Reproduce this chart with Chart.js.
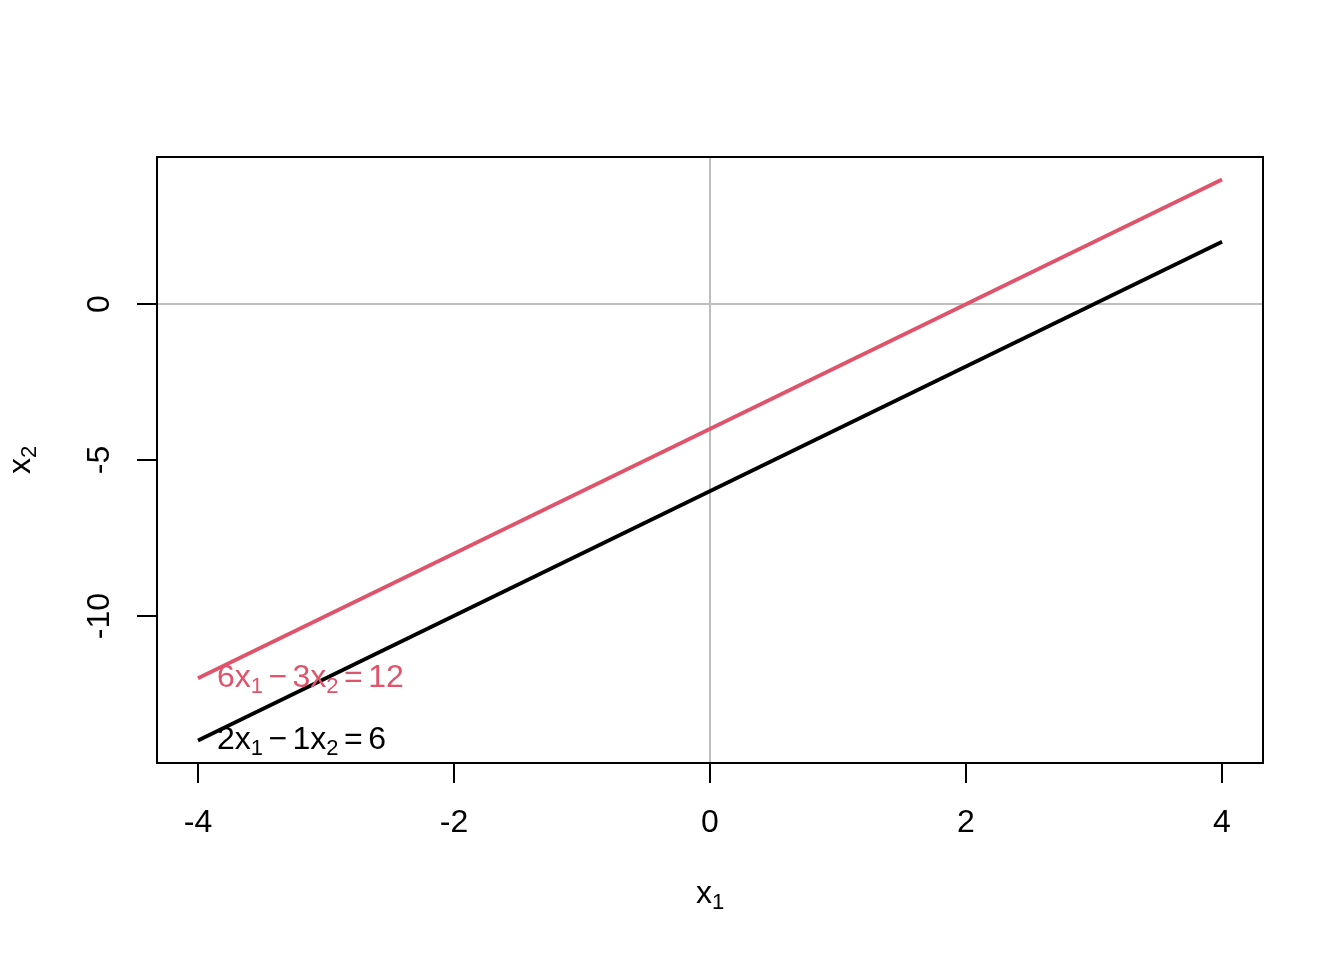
<!DOCTYPE HTML>
<html>
<head>
  <title>x1 / x2 lines</title>
  <meta charset="utf-8" />
  <script src="https://cdn.jsdelivr.net/npm/chart.js@4.4.0/dist/chart.umd.min.js"></script>
  <style type="text/css">
    body { margin: 0; padding: 0; background: #fff; }
  </style>
</head>
<body>
<canvas id="plot" width="1344" height="960"></canvas>

<script>
  // data
  var x1Values = [-4, 4];
  var blackX2 = [-14, 2];   // 2x1 - 1x2 = 6
  var redX2 = [-12, 4];     // 6x1 - 3x2 = 12
  var xTicks = [-4, -2, 0, 2, 4];
  var yTicks = [-10, -5, 0];
  var lineLabels = ["6x_1 − 3x_2 = 12", "2x_1 − 1x_2 = 6"];
  var labelAnchors = [[-4, -12], [-4, -14]];
  var labelColors = ["#DF536B", "#000000"];

  var FONT = "'Liberation Sans', Arial, sans-serif";

  function pts(xs, ys) {
    var out = [];
    for (var i = 0; i < xs.length; i++) out.push({x: xs[i], y: ys[i]});
    return out;
  }

  // draws text where "_d" makes d a subscript, spaces are narrow like plotmath
  function drawMath(ctx, str, x, y, size, align) {
    var parts = [];
    var re = /_(\w)/g, last = 0, m;
    while ((m = re.exec(str)) !== null) {
      if (m.index > last) parts.push({t: str.slice(last, m.index), sub: false});
      parts.push({t: m[1], sub: true});
      last = m.index + m[0].length;
    }
    if (last < str.length) parts.push({t: str.slice(last), sub: false});
    var subSize = Math.round(size * 0.7);
    var pieces = [];
    parts.forEach(function(p) {
      p.t.split(/( )/).forEach(function(s) {
        if (s !== "") pieces.push({t: s, sub: p.sub});
      });
    });
    var w = 0;
    pieces.forEach(function(p) {
      ctx.font = (p.sub ? subSize : size) + "px " + FONT;
      p.w = p.t === " " ? size * 0.17 : ctx.measureText(p.t).width;
      w += p.w;
    });
    var cx = align === "center" ? x - w / 2 : x;
    ctx.textBaseline = "alphabetic";
    ctx.textAlign = "left";
    pieces.forEach(function(p) {
      if (p.t !== " ") {
        ctx.font = (p.sub ? subSize : size) + "px " + FONT;
        ctx.fillText(p.t, cx, y + (p.sub ? size * 0.19 : 0));
      }
      cx += p.w;
    });
  }

  var axesPlugin = {
    id: 'baseAxes',
    beforeDatasetsDraw: function(chart) {
      var ctx = chart.ctx, a = chart.chartArea;
      var xs = chart.scales.x, ys = chart.scales.y;
      ctx.save();
      ctx.strokeStyle = "#BEBEBE";
      ctx.lineWidth = 2;
      var px = Math.round(xs.getPixelForValue(0));
      var py = Math.round(ys.getPixelForValue(0));
      ctx.beginPath();
      ctx.moveTo(px, a.top); ctx.lineTo(px, a.bottom);
      ctx.moveTo(a.left, py); ctx.lineTo(a.right, py);
      ctx.stroke();
      ctx.restore();
    },
    afterDatasetsDraw: function(chart) {
      var ctx = chart.ctx, a = chart.chartArea;
      var xs = chart.scales.x, ys = chart.scales.y;
      ctx.save();
      // equation labels
      for (var i = 0; i < lineLabels.length; i++) {
        ctx.fillStyle = labelColors[i];
        var lx = xs.getPixelForValue(labelAnchors[i][0]) + 19;
        var ly = ys.getPixelForValue(labelAnchors[i][1]) + 8.5;
        drawMath(ctx, lineLabels[i], lx, ly, 32, "left");
      }
      // box
      ctx.strokeStyle = "#000";
      ctx.lineWidth = 2;
      ctx.strokeRect(a.left, a.top, a.right - a.left, a.bottom - a.top);
      // x axis
      ctx.fillStyle = "#000";
      ctx.font = "32px " + FONT;
      ctx.textAlign = "center";
      ctx.textBaseline = "middle";
      ctx.beginPath();
      xTicks.forEach(function(t) {
        var p = Math.round(xs.getPixelForValue(t));
        ctx.moveTo(p, a.bottom); ctx.lineTo(p, a.bottom + 20);
        ctx.fillText(String(t), p, a.bottom + 60);
      });
      // y axis
      yTicks.forEach(function(t) {
        var p = Math.round(ys.getPixelForValue(t));
        ctx.moveTo(a.left, p); ctx.lineTo(a.left - 20, p);
        ctx.save();
        ctx.translate(a.left - 57, p);
        ctx.rotate(-Math.PI / 2);
        ctx.fillText(String(t), 0, 0);
        ctx.restore();
      });
      ctx.stroke();
      // axis titles
      drawMath(ctx, "x_1", (a.left + a.right) / 2, 903, 32, "center");
      ctx.save();
      ctx.translate(30, (a.top + a.bottom) / 2);
      ctx.rotate(-Math.PI / 2);
      drawMath(ctx, "x_2", 0, 0, 32, "center");
      ctx.restore();
      ctx.restore();
    }
  };

  var chart = new Chart(document.getElementById("plot"), {
    type: 'scatter',
    data: {
      datasets: [{
        data: pts(x1Values, redX2),
        borderColor: "#DF536B",
        borderWidth: 3.75,
        showLine: true,
        pointRadius: 0,
        fill: false
      }, {
        data: pts(x1Values, blackX2),
        borderColor: "#000000",
        borderWidth: 3.75,
        showLine: true,
        pointRadius: 0,
        fill: false
      }]
    },
    options: {
      responsive: false,
      animation: false,
      devicePixelRatio: 1,
      layout: { padding: { left: 157, right: 81, top: 157, bottom: 197 } },
      plugins: { legend: { display: false }, tooltip: { enabled: false } },
      scales: {
        x: { type: 'linear', min: -4.32, max: 4.32, display: false },
        y: { type: 'linear', min: -14.72, max: 4.72, display: false }
      }
    },
    plugins: [axesPlugin]
  });
</script>
</body>
</html>
